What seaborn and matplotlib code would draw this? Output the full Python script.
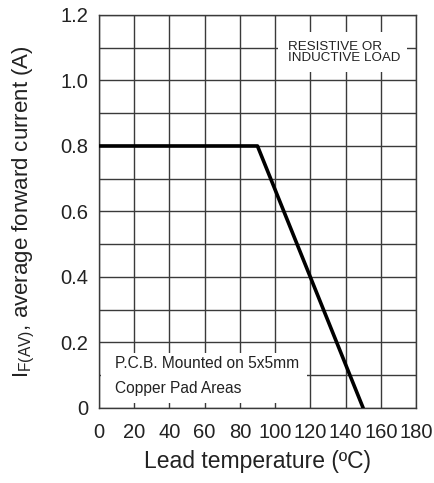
import matplotlib
matplotlib.use("Agg")
import matplotlib.pyplot as plt
import matplotlib.patches as mpatches
import seaborn as sns
import pandas as pd
import numpy as np

# Data
temperature = [0, 90, 150]
current = [0.8, 0.8, 0.0]
x_ticks = [0, 20, 40, 60, 80, 100, 120, 140, 160, 180]
y_ticks = [0, 0.2, 0.4, 0.6, 0.8, 1.0, 1.2]
y_tick_labels = ["0", "0.2", "0.4", "0.6", "0.8", "1.0", "1.2"]
y_minor = [0.1, 0.3, 0.5, 0.7, 0.9, 1.1]

sns.set_theme(style="white")
plt.rcParams['font.family'] = ['Liberation Sans', 'DejaVu Sans']
plt.rcParams['mathtext.fontset'] = 'custom'
plt.rcParams['mathtext.rm'] = 'Liberation Sans'
plt.rcParams['mathtext.it'] = 'Liberation Sans'

fig = plt.figure(figsize=(4.34, 4.83), dpi=100)
ax = fig.add_axes([0.228, 0.1553, 0.7305, 0.8137])

df = pd.DataFrame({"temp": temperature, "cur": current})

ax.set_xlim(0, 180)
ax.set_ylim(0, 1.2)
ax.set_xticks(x_ticks)
ax.set_yticks(y_ticks)
ax.set_yticklabels(y_tick_labels)
ax.set_yticks(y_minor, minor=True)

grid_color = "#3a3a3a"
ax.grid(True, which="both", color=grid_color, linewidth=1.0, zorder=0)
ax.set_axisbelow(True)

# White label boxes (hide grid under them)
ax.add_patch(mpatches.Rectangle((101.8, 1.027), 73.0, 0.121, facecolor="white",
                                edgecolor="none", zorder=1.5))
ax.add_patch(mpatches.Rectangle((1.1, 0.016), 117.0, 0.152, facecolor="white",
                                edgecolor="none", zorder=1.5))

sns.lineplot(data=df, x="temp", y="cur", ax=ax, color="black", linewidth=2.6,
             zorder=3, estimator=None, sort=False)

ax.text(107.5, 1.085, "RESISTIVE OR\nINDUCTIVE LOAD", fontsize=9.6, color="#222222",
        va="center", ha="left", linespacing=0.9, zorder=4)
ax.text(9.3, 0.137, "P.C.B. Mounted on 5x5mm", fontsize=11.2, color="#222222",
        va="center", ha="left", zorder=4)
ax.text(9.3, 0.061, "Copper Pad Areas", fontsize=11.2, color="#222222",
        va="center", ha="left", zorder=4)

for s in ax.spines.values():
    s.set_color(grid_color)
    s.set_linewidth(1.0)

ax.tick_params(axis="both", which="both", length=0, labelsize=14.5, colors="#222222")
ax.tick_params(axis="x", pad=10.5)
ax.tick_params(axis="y", pad=7.5)

ax.set_xlabel("Lead temperature (ºC)", fontsize=16.5, color="#222222", labelpad=6)
ax.set_ylabel(r"I$_{\mathrm{F(AV)}}$, average forward current (A)", fontsize=16,
              color="#222222", labelpad=17)

fig.savefig("out.png", dpi=100)
